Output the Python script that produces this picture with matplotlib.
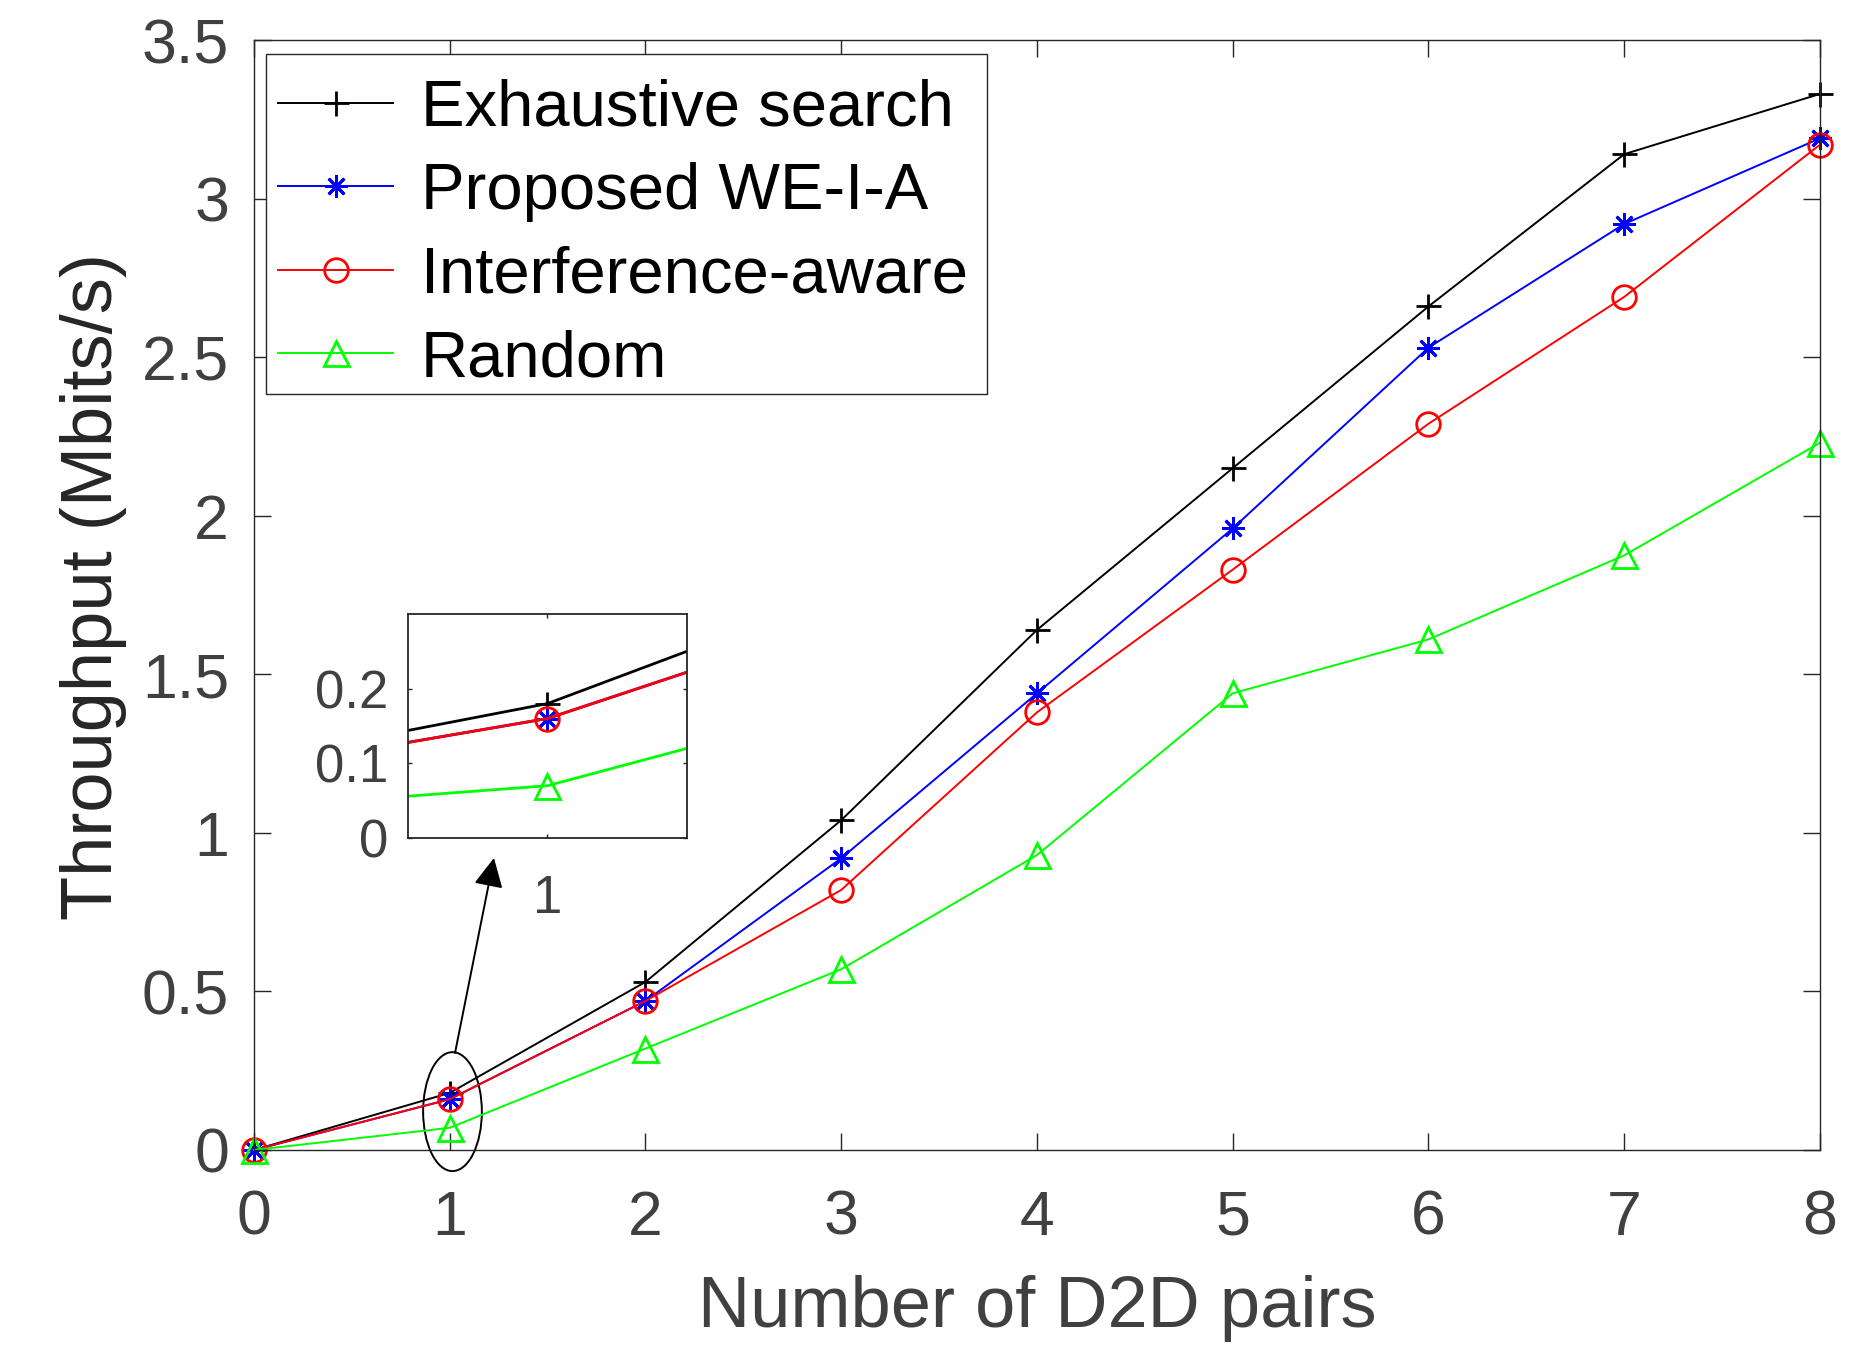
import numpy as np
import matplotlib
matplotlib.use("Agg")
import matplotlib.pyplot as plt
from matplotlib.patches import Ellipse, Rectangle

plt.rcParams['font.family'] = ['Liberation Sans', 'DejaVu Sans']

# data
pairs = [0, 1, 2, 3, 4, 5, 6, 7, 8]
exhaustive = [0, 0.18, 0.53, 1.04, 1.64, 2.15, 2.66, 3.14, 3.33]
proposed = [0, 0.16, 0.47, 0.92, 1.44, 1.96, 2.53, 2.92, 3.19]
interference = [0, 0.16, 0.47, 0.82, 1.38, 1.83, 2.29, 2.69, 3.17]
random_sel = [0, 0.07, 0.32, 0.57, 0.93, 1.44, 1.61, 1.875, 2.23]

names = ["Exhaustive search", "Proposed WE-I-A", "Interference-aware", "Random"]
xticks = [0, 1, 2, 3, 4, 5, 6, 7, 8]
yticks = [0, 0.5, 1, 1.5, 2, 2.5, 3, 3.5]
yticklabels = ["0", "0.5", "1", "1.5", "2", "2.5", "3", "3.5"]

axcol = '#262626'
txtcol = '#404040'

styles = [
    dict(color='k', marker='+', ms=18, mew=2.0),
    dict(color='#0000ff', marker=(8, 2, 0), ms=16, mew=2.0),
    dict(color='#ff0000', marker='o', ms=17, mew=2.0, mfc='none'),
    dict(color='#00ff00', marker='^', ms=18, mew=2.0, mfc='none'),
]
series = [exhaustive, proposed, interference, random_sel]

fig = plt.figure(figsize=(18.56, 13.56), dpi=100)
ax = fig.add_axes([0.13685, 0.15192, 0.84375, 0.81858])

for s, st, nm in zip(series, styles, names):
    ax.plot(pairs, s, lw=1.4, label=nm, clip_on=False, **st)

ax.set_xlim(0, 8)
ax.set_ylim(0, 3.5)
ax.set_xticks(xticks)
ax.set_yticks(yticks)
ax.set_yticklabels(yticklabels)
ax.tick_params(direction='in', length=12, width=1.0, top=True, right=True,
               labelsize=45, colors=axcol, labelcolor=txtcol)
ax.tick_params(axis='x', pad=28)
ax.tick_params(axis='y', pad=18)
for sp in ax.spines.values():
    sp.set_color(axcol)
    sp.set_linewidth(1.0)

ax.set_xlabel("Number of D2D pairs", fontsize=52, color=txtcol)
ax.set_ylabel("Throughput (Mbits/s)", fontsize=52, color=axcol)
ax.xaxis.set_label_coords(0.5, -0.113)
ax.yaxis.set_label_coords(-0.081, 0.508)

# legend box drawn separately so the entries can sit a little lower in it
ax.add_patch(Rectangle((0.00766, 0.681), 0.4604, 0.3064, transform=ax.transAxes,
                       fc='white', ec=axcol, lw=1.0, zorder=4.9, clip_on=False))
leg = ax.legend(loc='upper left', bbox_to_anchor=(0.006, 0.978), borderaxespad=0,
                fontsize=47, numpoints=1, handlelength=1.77, handletextpad=0.42,
                borderpad=0.22, labelspacing=0.36, frameon=False)
leg.set_zorder(5)

# ellipse around x = 1 and arrow to the zoomed inset
ax.add_patch(Ellipse((1.014, 0.121), 0.30, 0.375, fill=False, ec='k', lw=1.4, clip_on=False))
ax.annotate('', xy=(1.226, 0.921), xytext=(1.027, 0.306), annotation_clip=False,
            arrowprops=dict(arrowstyle='-|>', color='k', lw=1.4, mutation_scale=45,
                            shrinkA=0, shrinkB=0))

# inset
axin = fig.add_axes([0.2198, 0.382, 0.1503, 0.1652])
for s, st in zip(series, styles):
    axin.plot(pairs, s, lw=2.0, **st)
axin.set_xlim(0.8, 1.2)
axin.set_ylim(0, 0.3)
axin.set_xticks([1])
axin.set_yticks([0, 0.1, 0.2])
axin.set_yticklabels(["0", "0.1", "0.2"])
axin.tick_params(direction='in', length=3, width=1.0, top=True, right=True,
                 labelsize=38, colors=axcol, labelcolor=txtcol)
axin.tick_params(axis='x', pad=26)
axin.tick_params(axis='y', pad=14)
for sp in axin.spines.values():
    sp.set_color(axcol)
    sp.set_linewidth(1.3)

fig.savefig("out.png", dpi=100)
